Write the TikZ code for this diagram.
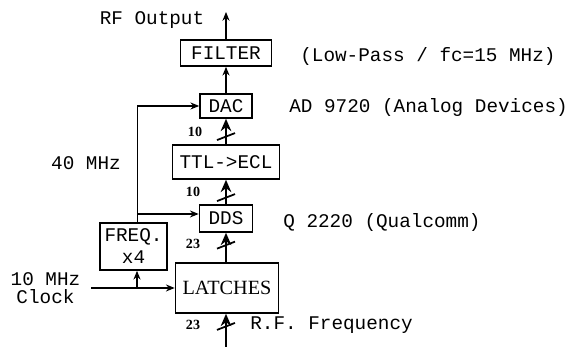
\documentclass[tikz,border=0pt]{standalone}
\usepackage{fontspec}
\setmainfont{Liberation Serif}
\setmonofont{Liberation Mono}
\usetikzlibrary{arrows.meta}
\tikzset{
  blk/.style={draw, line width=0.9pt, font=\ttfamily\fontsize{11}{12.5}\selectfont, inner sep=0pt},
  txt/.style={font=\ttfamily\fontsize{11}{12}\selectfont, inner sep=0pt},
  sarrow/.style={-{Stealth[length=5pt,width=4pt]}, line width=0.7pt},
  bus/.style={-{Stealth[length=7pt,width=6pt]}, line width=1.4pt},
  buslbl/.style={font=\bfseries\fontsize{8}{9}\selectfont, inner sep=0pt}
}
\newcommand{\busmark}[1]{\draw[line width=1pt] ([shift={(-0.18,-0.07)}]#1) -- ([shift={(0.18,0.07)}]#1);}

\begin{document}
\begin{tikzpicture}[x=1cm, y=1cm]
    \useasboundingbox (0,0) rectangle (11.34,6.94);
    % blocks
    \node[blk, minimum width=1.82cm, minimum height=0.52cm] (filter) at (4.52,5.88) {FILTER};
    \node[blk, minimum width=1.04cm, minimum height=0.48cm] (dac) at (4.52,4.82) {DAC};
    \node[blk, minimum width=2.14cm, minimum height=0.68cm] (ttl) at (4.52,3.70) {TTL->ECL};
    \node[blk, minimum width=1.06cm, minimum height=0.54cm] (dds) at (4.52,2.57) {DDS};
    \node[blk, minimum width=1.34cm, minimum height=0.94cm, align=center] (freq) at (2.67,2.01) {FREQ.\\x4};
    \node[blk, minimum width=2.06cm, minimum height=1.0cm, font=\rmfamily\fontsize{11.5}{13}\selectfont] (latch) at (4.54,1.18) {LATCHES};
    % free ends
    \coordinate (rfout) at (4.52,6.70);
    \coordinate (rfin) at (4.52,0);
    \coordinate (ck) at (1.82,1.18);
    \coordinate (ckb) at (2.74,1.18);
    \coordinate (fq) at (2.74,2.66);
    \coordinate (fqt) at (2.74,4.82);
    % signal path
    \draw[sarrow] (filter.north) -- (rfout);
    \draw[sarrow] (dac.north) -- (filter.south);
    \draw[bus] (ttl.north) -- coordinate[pos=0.3] (s1) (dac.south);
    \draw[bus] (dds.north) -- coordinate[pos=0.27] (s2) (ttl.south);
    \draw[bus] (latch.north -| dds) -- coordinate[pos=0.58] (s3) (dds.south);
    \draw[bus] (rfin) -- coordinate[pos=0.62] (s4) (rfin |- latch.south);
    \busmark{s1}
    \busmark{s2}
    \busmark{s3}
    \busmark{s4}
    \node[buslbl] (n1) at ([shift={(-0.62,0.10)}]s1) {10};
    \node[buslbl] (n2) at ([shift={(-0.66,0.12)}]s2) {10};
    \node[buslbl] (n3) at ([shift={(-0.66,0.02)}]s3) {23};
    \node[buslbl] (n4) at ([shift={(-0.66,0.02)}]s4) {23};
    % clocks
    \draw[sarrow] (ck) -- (latch.west);
    \draw[sarrow] (ckb) -- (ckb |- freq.south);
    \draw (ckb |- freq.north) -- (fqt);
    \draw[sarrow] (fqt) -- (dac.west);
    \draw[sarrow] (fq) -- (dds.west |- fq);
    % labels
    \node[txt] (rfo) at (3.04,6.54) {RF Output};
    \node[txt, anchor=west] (lp) at (6.00,5.80) {(Low-Pass / fc=15 MHz)};
    \node[txt, anchor=west] (ad) at (5.78,4.78) {AD 9720 (Analog Devices)};
    \node[txt, anchor=west] (q) at (5.66,2.48) {Q 2220 (Qualcomm)};
    \node[txt] (mhz) at (1.72,3.68) {40 MHz};
    \node[txt, align=center, font=\ttfamily\fontsize{11}{10}\selectfont] (clk) at (0.91,1.18) {10 MHz\\Clock};
    \node[txt, anchor=west] (rff) at (5.00,0.44) {R.F. Frequency};
\end{tikzpicture}
\end{document}
